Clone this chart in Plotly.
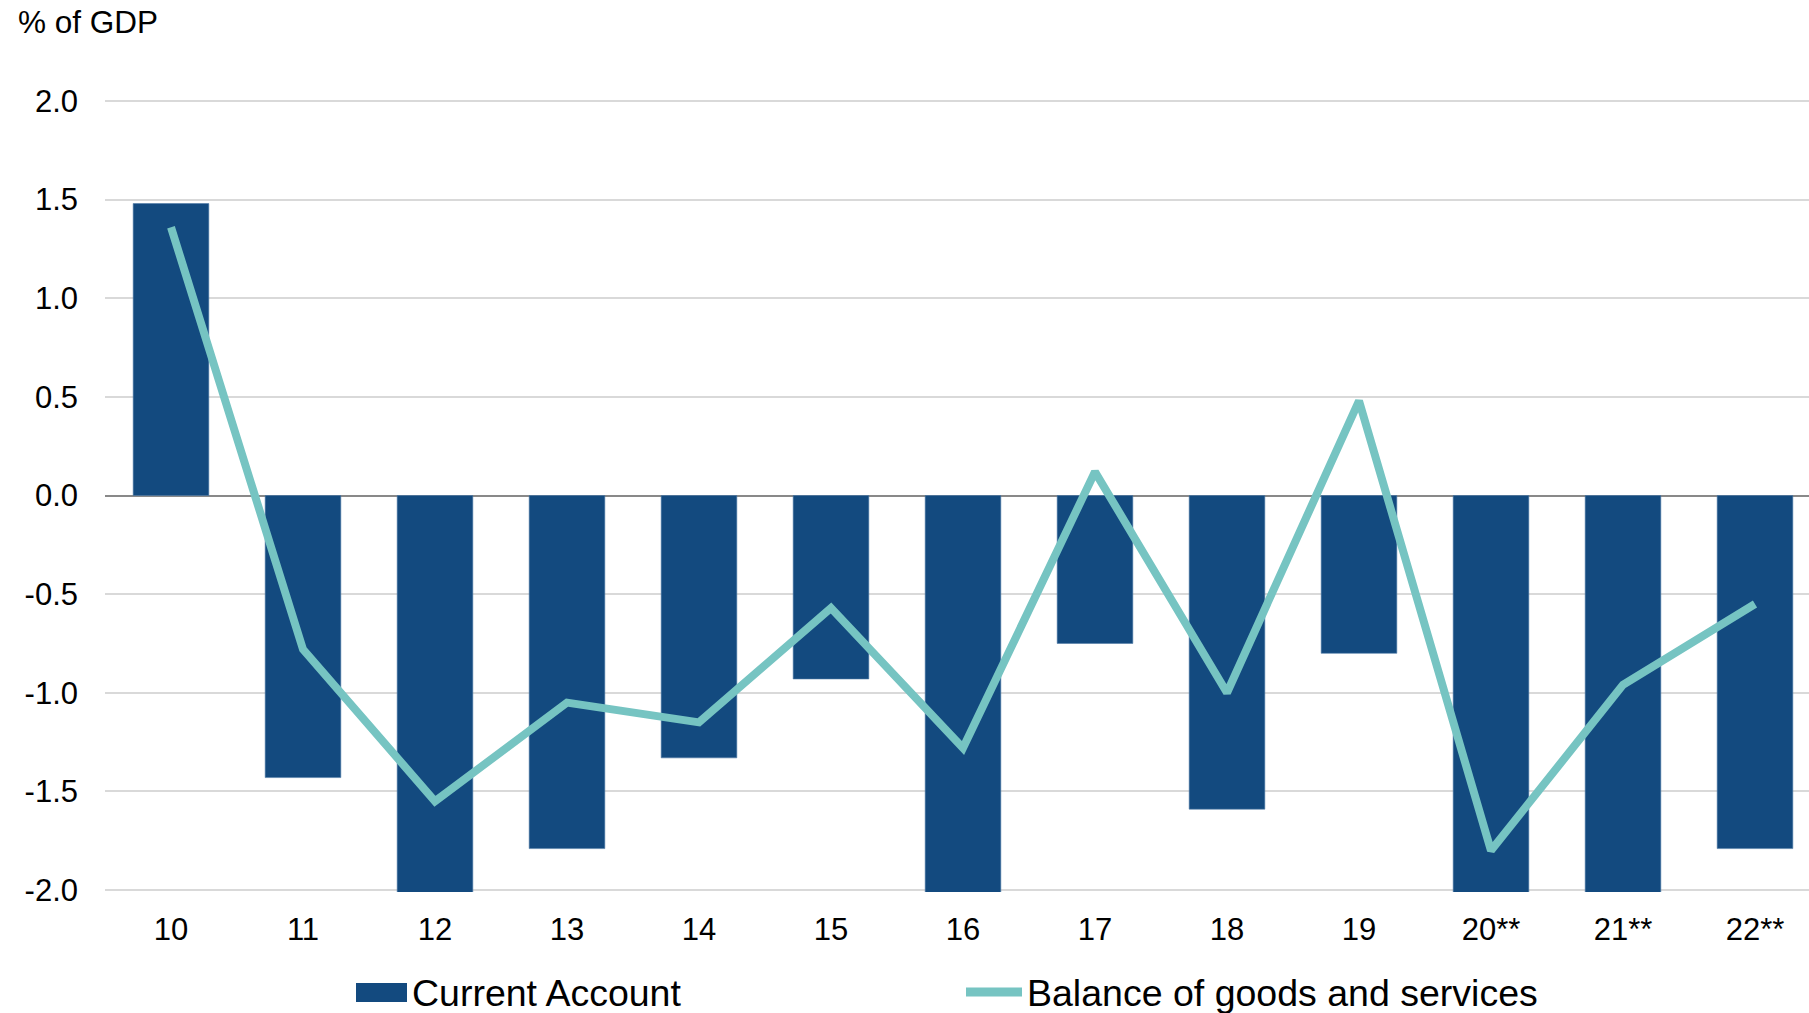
import plotly.graph_objects as go

categories = ["10", "11", "12", "13", "14", "15", "16", "17", "18", "19", "20**", "21**", "22**"]
current_account = [1.48, -1.43, -2.2, -1.79, -1.33, -0.93, -2.2, -0.75, -1.59, -0.80, -2.2, -2.2, -1.79]
balance_goods_services = [1.36, -0.78, -1.55, -1.05, -1.15, -0.57, -1.28, 0.12, -1.00, 0.48, -1.80, -0.96, -0.55]
y_ticks = [-2.0, -1.5, -1.0, -0.5, 0.0, 0.5, 1.0, 1.5, 2.0]

BAR_COLOR = "#134A7F"
LINE_COLOR = "#76C4C2"
GRID_COLOR = "#D9D9D9"
FONT = "Liberation Sans, Arial, sans-serif"

W, H = 1809, 1013
ML, MR, MT, MB = 105, 0, 99, 121
PW, PH = W - ML - MR, H - MT - MB

def px_x(p):
    return (p - ML) / PW

def px_y(p):
    return (H - MB - p) / PH

fig = go.Figure()
fig.add_trace(go.Bar(
    x=categories, y=current_account, name="Current Account",
    marker=dict(color=BAR_COLOR, line=dict(color="#4F7BA6", width=0.6)),
    showlegend=False,
))
fig.add_trace(go.Scatter(
    x=categories, y=balance_goods_services, name="Balance of goods and services",
    mode="lines", line=dict(color=LINE_COLOR, width=8),
    showlegend=False,
))

# category spacing 132 px; plot area continues past the right edge
n_units = PW / 132.0
fig.update_xaxes(
    type="category", range=[-0.5, -0.5 + n_units],
    showgrid=False, zeroline=False, showline=False,
    ticks="", tickfont=dict(size=31, color="#000000", family=FONT),
    ticklabelstandoff=16,
)
fig.update_yaxes(
    range=[-2.01, 2.01], tickvals=y_ticks, ticktext=[f"{v:.1f}" for v in y_ticks],
    showgrid=True, gridcolor=GRID_COLOR, gridwidth=1.5,
    zeroline=True, zerolinecolor="#898989", zerolinewidth=1.5,
    showline=False, ticks="", tickfont=dict(size=31, color="#000000", family=FONT),
    ticklabelstandoff=26,
)

# outermost gridlines (plotly skips grid lines that sit on the plot edge)
shapes = [
    dict(type="line", xref="paper", yref="y", x0=0, x1=1, y0=v, y1=v,
         line=dict(color=GRID_COLOR, width=1.5), layer="below")
    for v in (y_ticks[0], y_ticks[-1])
]
shapes += [
    dict(type="rect", xref="paper", yref="paper",
         x0=px_x(356), x1=px_x(407), y0=px_y(1002), y1=px_y(983),
         fillcolor=BAR_COLOR, line=dict(width=0)),
    dict(type="line", xref="paper", yref="paper",
         x0=px_x(966), x1=px_x(1022), y0=px_y(992), y1=px_y(992),
         line=dict(color=LINE_COLOR, width=9)),
]
annotations = [
    dict(text="% of GDP", xref="paper", yref="paper", x=px_x(16), y=px_y(22),
         xanchor="left", yanchor="middle", showarrow=False,
         font=dict(size=31.5, color="#000000", family=FONT)),
    dict(text="Current Account", xref="paper", yref="paper", x=px_x(410), y=px_y(993),
         xanchor="left", yanchor="middle", showarrow=False,
         font=dict(size=37.5, color="#000000", family=FONT)),
    dict(text="Balance of goods and services", xref="paper", yref="paper", x=px_x(1025), y=px_y(993),
         xanchor="left", yanchor="middle", showarrow=False,
         font=dict(size=37.5, color="#000000", family=FONT)),
]

fig.update_layout(
    width=W, height=H,
    margin=dict(l=ML, r=MR, t=MT, b=MB, pad=0),
    paper_bgcolor="white", plot_bgcolor="white",
    bargap=0.427,
    shapes=shapes, annotations=annotations,
    font=dict(family=FONT, color="#000000"),
    showlegend=False,
)

fig.write_html(
    "out.html",
    config={"displayModeBar": False},
    post_script="document.body.style.margin='0';document.body.style.overflow='hidden';",
)
